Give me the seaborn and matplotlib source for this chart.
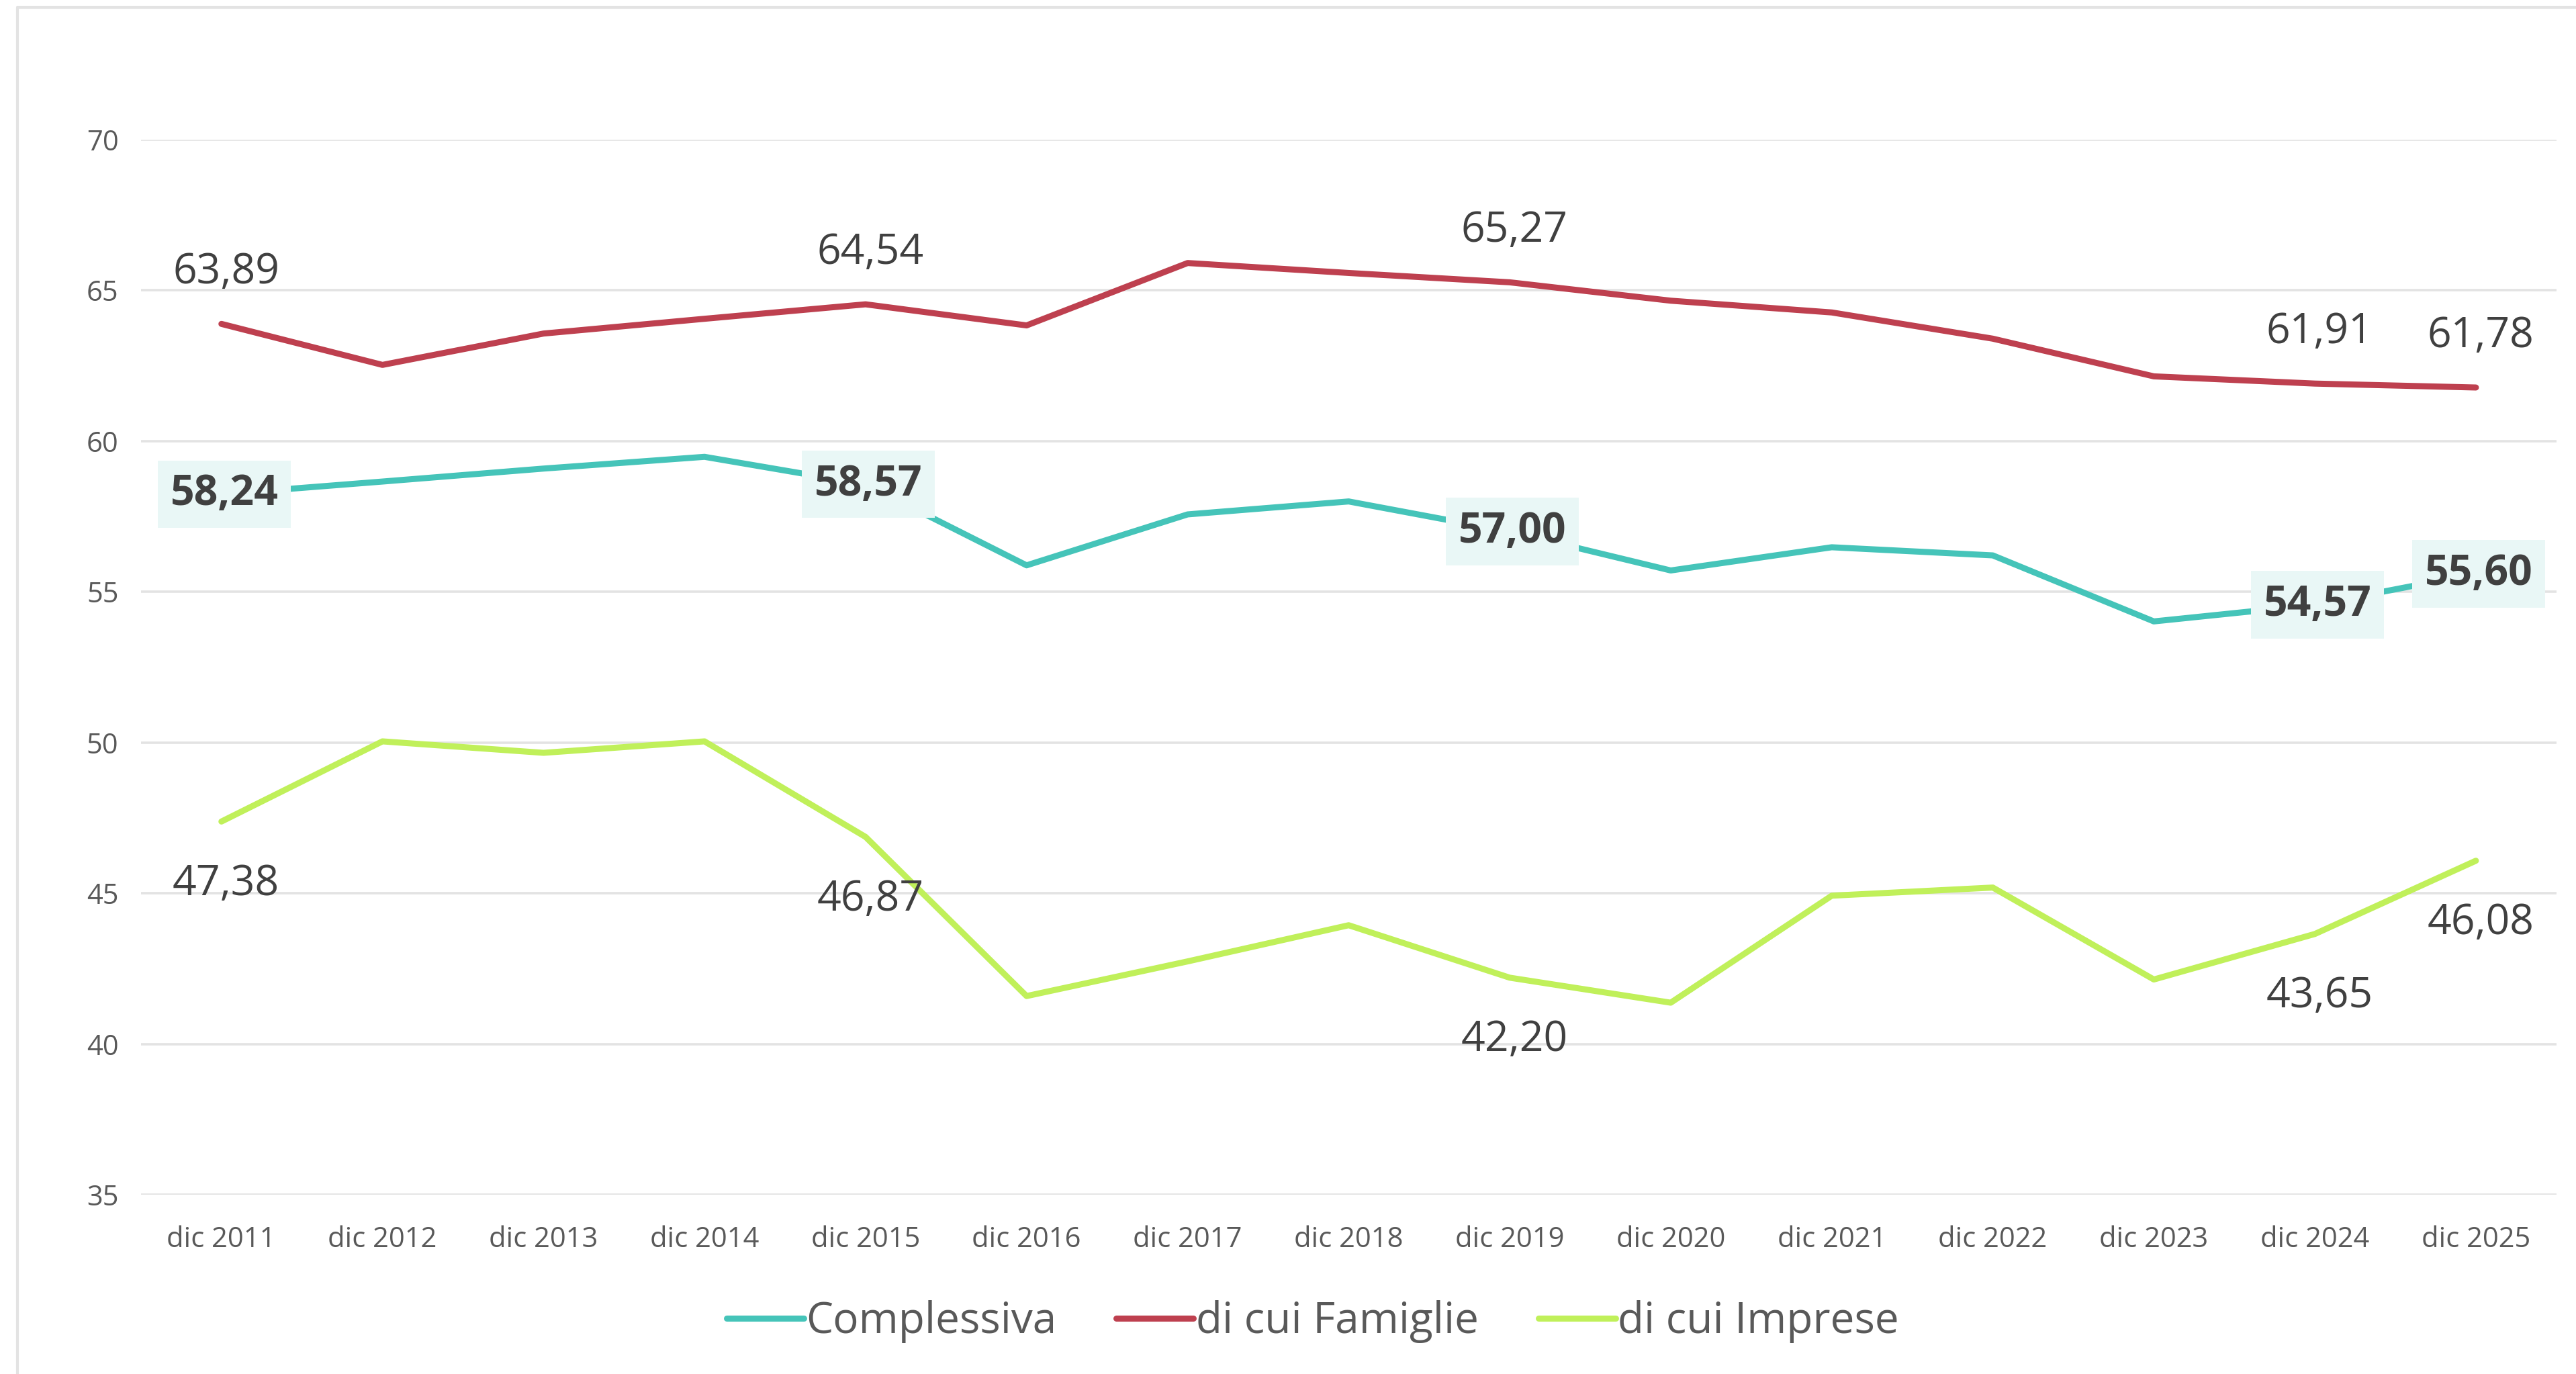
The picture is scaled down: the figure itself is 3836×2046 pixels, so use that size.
import pandas as pd
import matplotlib.pyplot as plt
import seaborn as sns
from matplotlib.lines import Line2D

# ==============================
# Data
# ==============================
years = ["dic 2011", "dic 2012", "dic 2013", "dic 2014", "dic 2015", "dic 2016", "dic 2017",
         "dic 2018", "dic 2019", "dic 2020", "dic 2021", "dic 2022", "dic 2023", "dic 2024", "dic 2025"]

complessiva = [58.24, 58.66, 59.09, 59.48, 58.57, 55.88, 57.57, 58.00, 57.00, 55.71, 56.48, 56.21, 54.02, 54.57, 55.60]
famiglie = [63.89, 62.53, 63.57, 64.06, 64.54, 63.84, 65.91, 65.58, 65.27, 64.66, 64.27, 63.40, 62.15, 61.91, 61.78]
imprese = [47.38, 50.04, 49.66, 50.04, 46.87, 41.59, 42.74, 43.94, 42.20, 41.37, 44.92, 45.19, 42.14, 43.65, 46.08]

series_names = ["Complessiva", "di cui Famiglie", "di cui Imprese"]
series_colors = ["#45C4B9", "#BE404F", "#C0F05A"]

# which points carry a data label
label_idx = [0, 4, 8, 13, 14]

y_ticks = [35, 40, 45, 50, 55, 60, 65, 70]

df = pd.DataFrame({
    "anno": years * 3,
    "valore": complessiva + famiglie + imprese,
    "serie": [series_names[0]] * len(years) + [series_names[1]] * len(years) + [series_names[2]] * len(years),
})

# ==============================
# Style
# ==============================
sns.set_style("white")
plt.rcParams["font.family"] = ["Open Sans", "DejaVu Sans"]

fig = plt.figure(figsize=(38.36, 20.46), dpi=100)
ax = fig.add_axes([0.0547, 0.1305, 0.9377, 0.7678])

sns.lineplot(data=df, x="anno", y="valore", hue="serie", hue_order=series_names,
             palette=series_colors, linewidth=6.5, sort=False, ax=ax, legend=False)

ax.set_xlim(-0.5, len(years) - 0.5)
ax.set_ylim(35, 70)
ax.set_yticks(y_ticks)
ax.set_xticks(range(len(years)))
ax.set_xticklabels(years)
ax.grid(axis="y", color="#E3E3E3", linewidth=2.6)
ax.grid(axis="x", visible=False)
ax.set_axisbelow(True)
for s in ax.spines.values():
    s.set_visible(False)
ax.tick_params(axis="both", length=0, labelsize=30, labelcolor="#595959")
ax.tick_params(axis="y", pad=24)
ax.tick_params(axis="x", pad=33)
ax.set_xlabel("")
ax.set_ylabel("")


def fmt(v):
    return f"{v:.2f}".replace(".", ",")


# data labels
for i in label_idx:
    ax.annotate(fmt(famiglie[i]), (i, famiglie[i]), xytext=(5, 55), textcoords="offset points",
                ha="center", va="center", fontsize=45, color="#404040")
    ax.annotate(fmt(imprese[i]), (i, imprese[i]), xytext=(5, -67), textcoords="offset points",
                ha="center", va="center", fontsize=45, color="#404040")
    ax.annotate(fmt(complessiva[i]), (i, complessiva[i]), xytext=(3, 0), textcoords="offset points",
                ha="center", va="center", fontsize=45, color="#404040", fontweight="bold",
                bbox=dict(boxstyle="square,pad=0.3", facecolor="#E9F7F6", edgecolor="none"))

# legend
handles = [Line2D([0], [0], color=c, linewidth=6.5) for c in series_colors]
fig.legend(handles, series_names, loc="center", bbox_to_anchor=(0.5096, 0.038), ncol=3,
           frameon=False, fontsize=46, handlelength=1.8, handletextpad=0.05, columnspacing=1.4,
           labelcolor="#595959")

# chart frame (top and left edges)
fig.add_artist(Line2D([0.0068, 1.0], [0.9944, 0.9944], transform=fig.transFigure, color="#E3E3E3", linewidth=3))
fig.add_artist(Line2D([0.0068, 0.0068], [0.0, 0.9944], transform=fig.transFigure, color="#E3E3E3", linewidth=3))

fig.savefig("out.png", dpi=100)
